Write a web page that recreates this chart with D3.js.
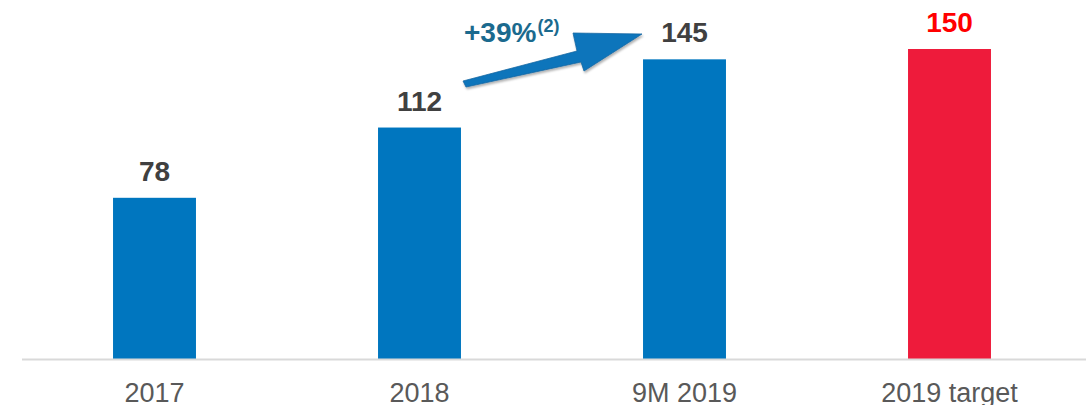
<!DOCTYPE html>
<html>
<head>
<meta charset="utf-8">
<script src="https://cdn.jsdelivr.net/npm/d3@7"></script>
<style>
  body { margin: 0; background: #fff; }
  svg { display: block; font-family: "Liberation Sans", Arial, sans-serif; }
</style>
</head>
<body>
<svg id="chart" width="1086" height="405"></svg>
<script>
// data
var categories = ["2017", "2018", "9M 2019", "2019 target"];
var values = [78, 112, 145, 150];
var isTarget = [false, false, false, true];
var growthLabel = "+39%";
var growthNote = "(2)";

var width = 1086, height = 405;
var baseY = 359;

var svg = d3.select("#chart");

var x = d3.scaleBand()
    .domain(categories)
    .range([22, 1082])
    .paddingInner(0)
    .paddingOuter(0);

var y = d3.scaleLinear()
    .domain([0, 150])
    .range([baseY, 49]);

var barW = x.bandwidth() * 0.313;

var data = categories.map(function (c, i) {
    return {cat: c, v: values[i], target: isTarget[i]};
});

// bars
svg.selectAll(".bar")
    .data(data)
    .enter().append("rect")
    .attr("class", "bar")
    .attr("x", function (d) { return x(d.cat) + x.bandwidth() / 2 - barW / 2; })
    .attr("width", barW)
    .attr("y", function (d) { return y(d.v); })
    .attr("height", function (d) { return baseY - y(d.v); })
    .attr("fill", function (d) { return d.target ? "#ee1b3b" : "#0076bf"; });

// baseline
svg.append("line")
    .attr("x1", 22).attr("x2", 1086)
    .attr("y1", baseY + 0.5).attr("y2", baseY + 0.5)
    .attr("stroke", "#d9d9d9")
    .attr("stroke-width", 2);

// value labels
svg.selectAll(".val")
    .data(data)
    .enter().append("text")
    .attr("class", "val")
    .attr("x", function (d) { return x(d.cat) + x.bandwidth() / 2; })
    .attr("y", function (d) { return y(d.v) - 17; })
    .attr("text-anchor", "middle")
    .attr("font-size", "28px")
    .attr("font-weight", "bold")
    .attr("fill", function (d) { return d.target ? "#ff0000" : "#404040"; })
    .text(function (d) { return d.v; });

// category labels
svg.selectAll(".cat")
    .data(data)
    .enter().append("text")
    .attr("class", "cat")
    .attr("x", function (d) { return x(d.cat) + x.bandwidth() / 2; })
    .attr("y", 402)
    .attr("text-anchor", "middle")
    .attr("font-size", "27px")
    .attr("fill", "#595959")
    .text(function (d) { return d.cat; });

// growth arrow between 2018 and 9M 2019
var defs = svg.append("defs");
var f = defs.append("filter").attr("id", "shadow")
    .attr("x", "-10%").attr("y", "-10%").attr("width", "130%").attr("height", "140%");
f.append("feDropShadow")
    .attr("dx", 1).attr("dy", 2).attr("stdDeviation", 1.2)
    .attr("flood-color", "#000").attr("flood-opacity", 0.3);

var arrowPts = [[463, 81], [577, 51], [573, 33], [642, 34], [584, 71], [581, 62], [466, 87]];
svg.append("path")
    .attr("d", d3.line()(arrowPts) + "Z")
    .attr("fill", "#0a74bb")
    .attr("stroke", "#1a6aa3")
    .attr("stroke-width", 0.8)
    .attr("filter", "url(#shadow)");

var g = svg.append("text")
    .attr("x", 464)
    .attr("y", 42)
    .attr("font-weight", "bold")
    .attr("fill", "#1b6a8e");
g.append("tspan").attr("font-size", "28px").text(growthLabel);
g.append("tspan").attr("font-size", "18px").attr("dy", -10).attr("dx", 1).text(growthNote);
</script>
</body>
</html>
